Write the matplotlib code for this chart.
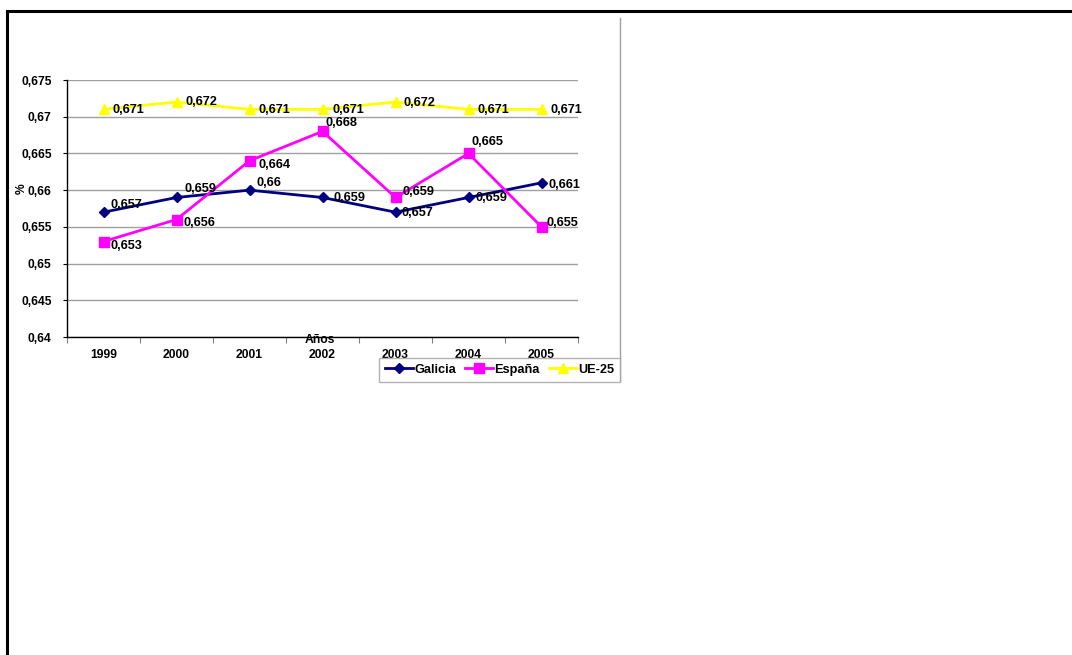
import matplotlib
matplotlib.use("Agg")
from matplotlib import pyplot as plt
from matplotlib.lines import Line2D

plt.rcParams['font.family'] = ['Liberation Sans', 'DejaVu Sans']
plt.rcParams['font.weight'] = 'bold'

years = ['1999', '2000', '2001', '2002', '2003', '2004', '2005']
galicia = [0.657, 0.659, 0.660, 0.659, 0.657, 0.659, 0.661]
espana = [0.653, 0.656, 0.664, 0.668, 0.659, 0.665, 0.655]
ue25 = [0.671, 0.672, 0.671, 0.671, 0.672, 0.671, 0.671]
galicia_txt = ['0,657', '0,659', '0,66', '0,659', '0,657', '0,659', '0,661']
espana_txt = ['0,653', '0,656', '0,664', '0,668', '0,659', '0,665', '0,655']
ue25_txt = ['0,671', '0,672', '0,671', '0,671', '0,672', '0,671', '0,671']
yticks = [0.64, 0.645, 0.65, 0.655, 0.66, 0.665, 0.67, 0.675]
ytick_labels = ['0,64', '0,645', '0,65', '0,655', '0,66', '0,665', '0,67', '0,675']

# label offsets in pixels (dx, dy)
galicia_off = [(7, 7), (8, 8), (7, 7), (11, -1), (6, -1), (7, -1), (7, -2)]
espana_off = [(7, -4), (7, -3), (9, -4), (3, 8), (7, 5), (3, 11), (5, 4)]
ue25_off = [(9, -1), (9, 0), (9, -1), (10, -1), (8, -1), (9, -1), (9, -1)]

W, H = 1072, 655
fig = plt.figure(figsize=(W / 100, H / 100), dpi=100)
ax = fig.add_axes([67 / W, 1 - 337 / H, 511 / W, 257 / H])

x = list(range(len(years)))
ax.plot(x, galicia, color='#000080', linewidth=2, marker='D', markersize=5, label='Galicia')
ax.plot(x, espana, color='#FF00FF', linewidth=2, marker='s', markersize=7, label='España')
ax.plot(x, ue25, color='#FFFF00', linewidth=2, marker='^', markersize=7, label='UE-25')

for vals, txts, offs in [(galicia, galicia_txt, galicia_off),
                         (espana, espana_txt, espana_off),
                         (ue25, ue25_txt, ue25_off)]:
    for i in range(len(vals)):
        ax.annotate(txts[i], (x[i], vals[i]), xytext=offs[i], textcoords='offset pixels',
                    ha='left', va='center', fontsize=9.2, fontweight='bold', color='black')

ax.set_xlim(-0.5, 6.5)
ax.set_ylim(0.64, 0.675)
ax.set_yticks(yticks)
ax.set_yticklabels(ytick_labels, fontsize=8.7, fontweight='bold')
ax.set_xticks(x)
ax.set_xticklabels(years, fontsize=8.7, fontweight='bold')
ax.set_xticks([i - 0.5 for i in range(len(years) + 1)], minor=True)
ax.tick_params(axis='x', which='major', length=0, pad=9)
ax.tick_params(axis='x', which='minor', length=4, color='#808080', width=0.8)
ax.tick_params(axis='y', length=3, width=0.8, pad=8)
ax.grid(axis='y', color='#a0a0a0', linewidth=1)
ax.set_axisbelow(True)
for s in ['top', 'right']:
    ax.spines[s].set_visible(False)
ax.spines['left'].set_linewidth(1)
ax.spines['bottom'].set_linewidth(1)

fig.text(22 / W, 1 - 189 / H, '%', rotation=90, ha='center', va='center', fontsize=8.7, fontweight='bold')
fig.text(320 / W, 1 - 340 / H, 'Años', ha='center', va='center', fontsize=8.7, fontweight='bold')

leg = fig.legend(loc='upper right', bbox_to_anchor=(620 / W, 1 - 358 / H), ncol=3,
                 fontsize=9.2, frameon=True, fancybox=False, handlelength=2.2,
                 handletextpad=0.1, columnspacing=0.7, borderpad=0.45, borderaxespad=0)
leg.get_frame().set_edgecolor('#a0a0a0')
leg.get_frame().set_linewidth(1)

fig.add_artist(Line2D([7 / W, 1], [1 - 11 / H, 1 - 11 / H], color='black', linewidth=2.2))
fig.add_artist(Line2D([7 / W, 7 / W], [0, 1 - 11 / H], color='black', linewidth=2.2))
fig.add_artist(Line2D([620 / W, 620 / W], [1 - 18 / H, 1 - 381 / H], color='#a0a0a0', linewidth=1))

fig.savefig('out.png', dpi=100)
